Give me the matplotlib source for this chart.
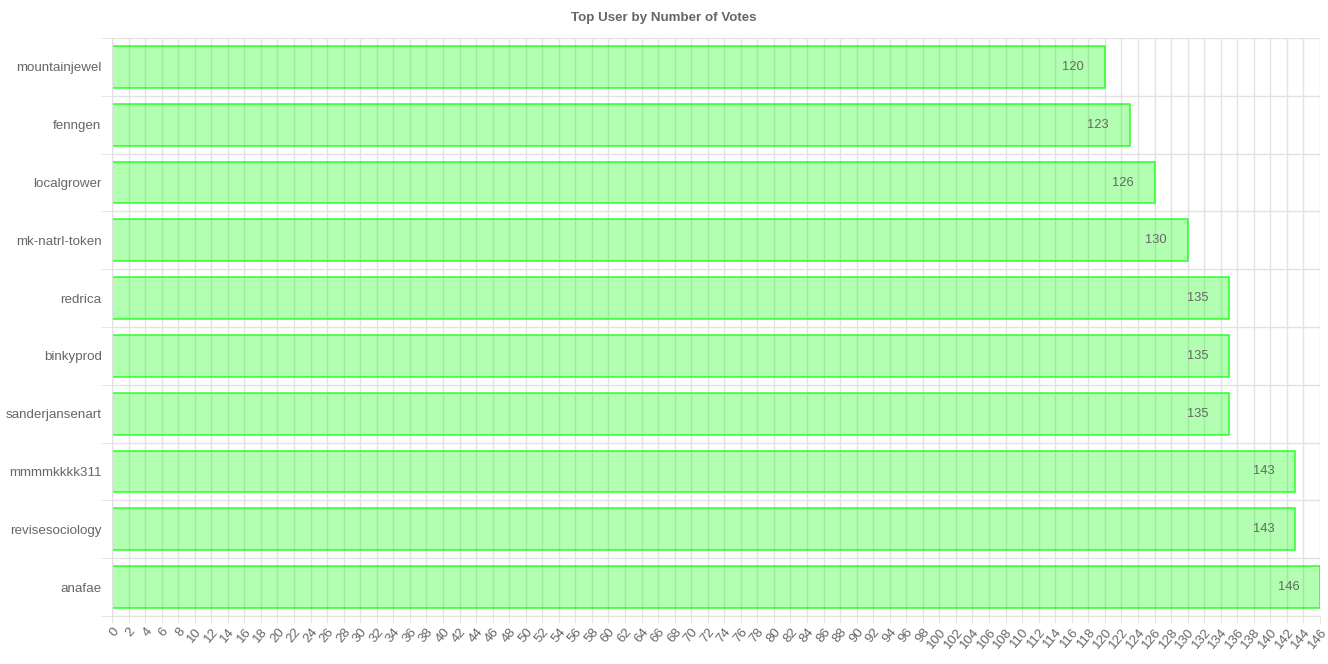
import numpy as np
import matplotlib.pyplot as plt

# ── Data ──────────────────────────────────────────────────────────
users = ["mountainjewel", "fenngen", "localgrower", "mk-natrl-token", "redrica",
         "binkyprod", "sanderjansenart", "mmmmkkkk311", "revisesociology", "anafae"]
votes = [120, 123, 126, 130, 135, 135, 135, 143, 143, 146]
x_ticks = list(range(0, 147, 2))

GRID = "#e2e2e2"
TXT = "#666666"
plt.rcParams["font.family"] = ["Liberation Sans", "DejaVu Sans"]

# ── Plot ──────────────────────────────────────────────────────────
fig = plt.figure(figsize=(13.28, 6.64), dpi=100, facecolor="white")
ax = fig.add_axes([112 / 1328, 1 - 616 / 664, 1208 / 1328, 578 / 664])

y = np.arange(len(users))
ax.barh(y, votes, height=0.72, color=(0, 1, 0, 0.3),
        edgecolor=(0.1, 1, 0.1, 0.9), linewidth=1.1, zorder=2)

for yi, v in zip(y, votes):
    ax.annotate(str(v), (v, yi), xytext=(-15, 0), textcoords="offset points",
                ha="right", va="center", fontsize=9.3, color=TXT, zorder=3)

ax.set_xlim(0, 146)
ax.set_ylim(len(users) - 0.5, -0.5)

ax.set_xticks(x_ticks)
ax.set_xticklabels([str(t) for t in x_ticks], rotation=50, ha="right",
                   rotation_mode="anchor", fontsize=9.5, color=TXT)
ax.set_yticks(y)
ax.set_yticklabels(users, fontsize=9.6, color=TXT)
ax.set_yticks(np.arange(-0.5, len(users), 1), minor=True)

ax.grid(axis="x", which="major", color=GRID, linewidth=1, zorder=0)
ax.grid(axis="y", which="minor", color=GRID, linewidth=1, zorder=0)
ax.tick_params(axis="x", which="major", length=5, color=GRID, pad=2)
ax.tick_params(axis="y", which="major", length=0, pad=7.5)
ax.tick_params(axis="y", which="minor", length=8, color=GRID)
ax.set_axisbelow(True)

for side in ["top", "right"]:
    ax.spines[side].set_visible(False)
ax.spines["left"].set_color(GRID)
ax.spines["bottom"].set_color(GRID)

fig.text(0.5, 1 - 18 / 664, "Top User by Number of Votes", ha="center", va="center",
         fontsize=9.6, fontweight="bold", color=TXT)

fig.savefig("out.png", dpi=100, facecolor="white")
plt.close(fig)
